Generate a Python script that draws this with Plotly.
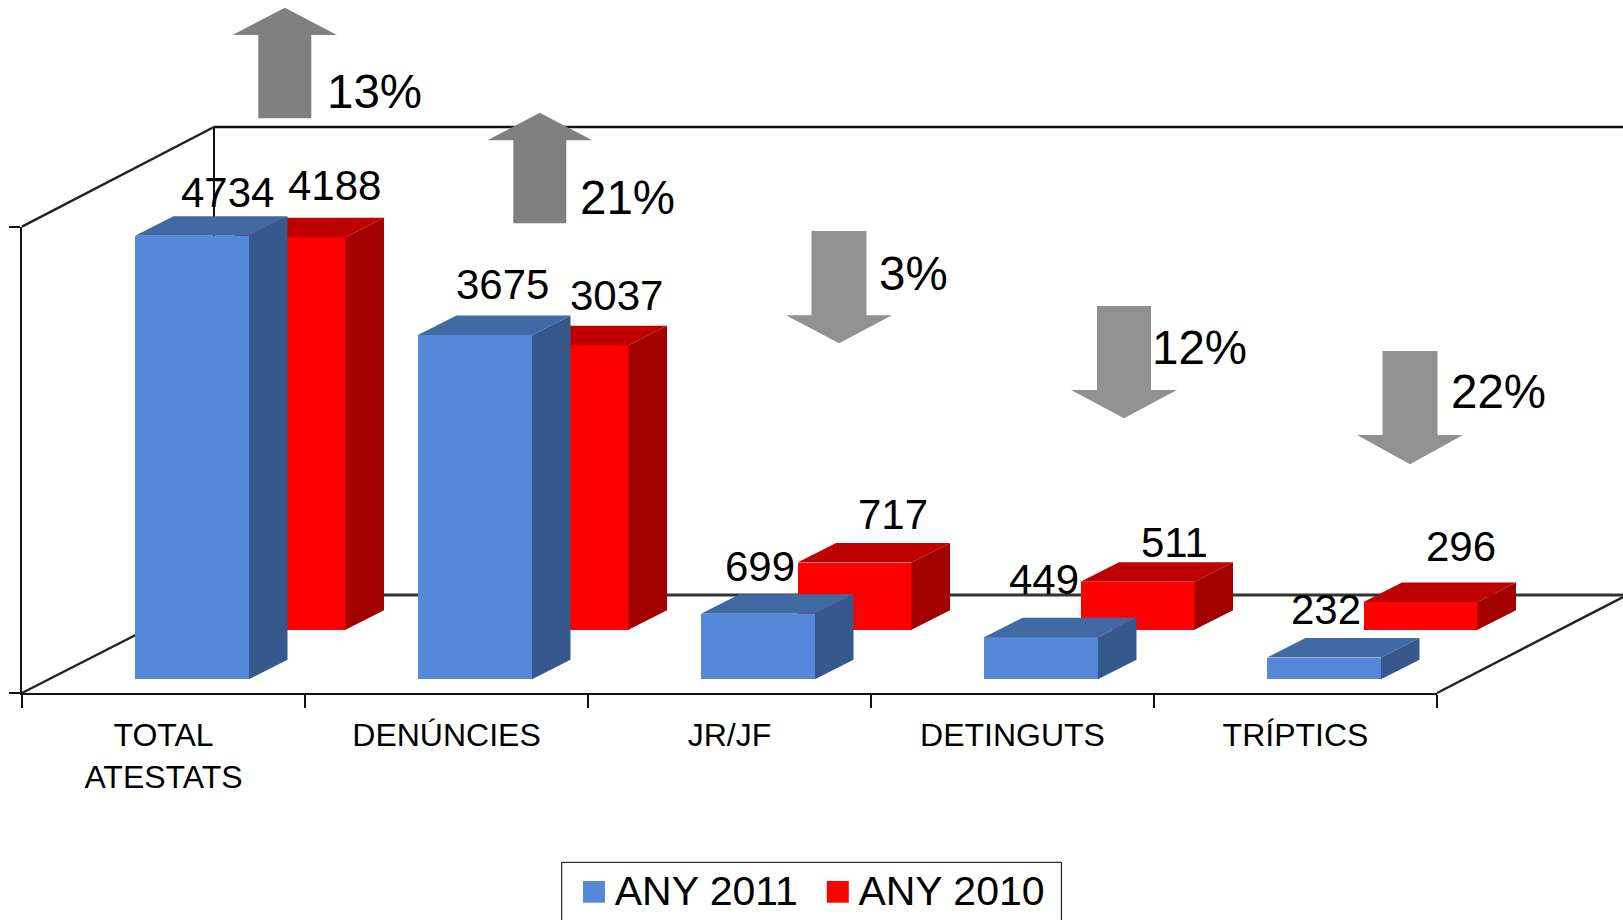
import plotly.graph_objects as go

# ---------- data ----------
categories = ["TOTAL ATESTATS", "DENÚNCIES", "JR/JF", "DETINGUTS", "TRÍPTICS"]
tick_labels = ["TOTAL<br>ATESTATS", "DENÚNCIES", "JR/JF", "DETINGUTS", "TRÍPTICS"]
any_2011 = [4734, 3675, 699, 449, 232]
any_2010 = [4188, 3037, 717, 511, 296]
change_labels = ["13%", "21%", "3%", "12%", "22%"]
change_direction = ["up", "up", "down", "down", "down"]

# ---------- layout constants (pixels of the 1623x920 page) ----------
W, H = 1623, 920
FLOOR_L, FLOOR_R, FLOOR_Y, WALL_TOP = 22, 1437, 693, 226.7
BACK_X, BACK_TOP, BACK_BOT = 214, 127, 595
CAT_PX = (FLOOR_R - FLOOR_L) / 5
CAT0_PX = FLOOR_L + CAT_PX / 2
PX_PER_UNIT = 0.0937
YMAX = (FLOOR_Y - WALL_TOP) / PX_PER_UNIT
BLUE_BASE = (FLOOR_Y - 679.3) / PX_PER_UNIT
RED_BASE = (FLOOR_Y - 629.7) / PX_PER_UNIT
BAR_W = 114 / CAT_PX
BLUE_OFF = -28.5 / CAT_PX
RED_OFF = 68 / CAT_PX
DX = 38.5 / CAT_PX
DY = 19.5 / PX_PER_UNIT
FONT = "Liberation Sans"
BLUE, BLUE_TOP, BLUE_SIDE = "#5588d8", "#4169a3", "#37588d"
RED, RED_TOP, RED_SIDE = "#ff0000", "#bf0000", "#a30000"

px = lambda x: x / W
py = lambda y: 1 - y / H


def polys(values, base, off):
    """Side and top faces of every bar, built from its value."""
    side_x, side_y, top_x, top_y = [], [], [], []
    for i, v in enumerate(values):
        xl, xr = i + off, i + off + BAR_W
        t = base + v
        side_x += [xr, xr + DX, xr + DX, xr, xr, None]
        side_y += [base, base + DY, t + DY, t, base, None]
        top_x += [xl, xl + DX, xr + DX, xr, xl, None]
        top_y += [t, t + DY, t + DY, t, t, None]
    return side_x, side_y, top_x, top_y


def series(values, base, off, name, front, top, side, rank, xa, ya):
    sx, sy, tx, ty = polys(values, base, off)
    return [
        go.Bar(x=list(range(5)), y=values, base=base, width=BAR_W, offset=off,
               marker=dict(color=front, line_width=0), name=name, legendrank=rank,
               xaxis=xa, yaxis=ya),
        go.Scatter(x=sx, y=sy, mode="none", fill="toself", fillcolor=side,
                   showlegend=False, hoverinfo="skip", xaxis=xa, yaxis=ya),
        go.Scatter(x=tx, y=ty, mode="none", fill="toself", fillcolor=top,
                   showlegend=False, hoverinfo="skip", xaxis=xa, yaxis=ya),
    ]


fig = go.Figure()
# the visible axes of the box
fig.add_trace(go.Scatter(x=[None], y=[None], showlegend=False, hoverinfo="skip", xaxis="x", yaxis="y"))
# bars live on hidden axes of the same scale that reach the page edges
fig.add_traces(series(any_2010, RED_BASE, RED_OFF, "ANY 2010", RED, RED_TOP, RED_SIDE, 2, "x2", "y2"))
fig.add_traces(series(any_2011, BLUE_BASE, BLUE_OFF, "ANY 2011", BLUE, BLUE_TOP, BLUE_SIDE, 1, "x3", "y3"))

# ---------- frame of the 3D box ----------
shapes = []
frame = [
    (FLOOR_L, WALL_TOP, BACK_X, BACK_TOP, 2.5, "#222222"),
    (BACK_X, BACK_TOP, W, BACK_TOP, 2.5, "#111111"),
    (BACK_X, BACK_TOP, BACK_X, BACK_BOT, 2, "#111111"),
    (FLOOR_L, FLOOR_Y, BACK_X, BACK_BOT, 2.5, "#222222"),
    (BACK_X, BACK_BOT, W, BACK_BOT, 3, "#333333"),
    (FLOOR_R, FLOOR_Y, W, 597, 2.5, "#222222"),
]
for x0, y0, x1, y1, lw, c in frame:
    shapes.append(dict(type="line", xref="paper", yref="paper", layer="below",
                       x0=px(x0), y0=py(y0), x1=px(x1), y1=py(y1), line=dict(color=c, width=lw)))

# ---------- change arrows ----------
# centre x, tail y, head-base y, tip y, shaft half width, head half width
arrow_geo = [
    (284.8, 118.3, 35, 7.7, 26.5, 52.2),
    (539.8, 223.3, 140.3, 112.7, 26.5, 52.4),
    (839, 231, 315.3, 343.3, 27.5, 53),
    (1124, 306, 390, 418.3, 27, 53),
    (1410, 351, 435, 464.3, 27.5, 53),
]
for (cx, tail, hb, tip, sw, hw), d in zip(arrow_geo, change_direction):
    pts = [(cx - sw, tail), (cx + sw, tail), (cx + sw, hb), (cx + hw, hb), (cx, tip), (cx - hw, hb), (cx - sw, hb)]
    path = "M" + "L".join(f"{px(a):.5f},{py(b):.5f}" for a, b in pts) + "Z"
    shapes.append(dict(type="path", xref="paper", yref="paper", layer="above", path=path,
                       fillcolor="#808080" if d == "up" else "#919191", line_width=0))

# legend box (runs off the bottom of the page) and enlarged swatches under the legend's own symbols
shapes.append(dict(type="rect", xref="paper", yref="paper", layer="above", x0=px(561.7), x1=px(1061.4),
                   y0=py(930), y1=py(862.3), line=dict(color="black", width=1), fillcolor="rgba(0,0,0,0)"))
swatches = [(583, 605, BLUE), (826.8, 848.8, RED)]
for x0, x1, c in swatches:
    shapes.append(dict(type="rect", xref="paper", yref="paper", layer="above",
                       x0=px(x0), x1=px(x1), y0=py(902.7), y1=py(881), fillcolor=c, line_width=0))

# ---------- texts ----------
annotations = []


def label(text, x, y, size):
    annotations.append(dict(text=text, xref="paper", yref="paper", x=px(x), y=py(y), xanchor="center",
                            yanchor="middle", showarrow=False, font=dict(family=FONT, size=size, color="black")))


blue_label_px = [(227.7, 192.7), (502.5, 285), (760, 566), (1044, 579), (1326, 609)]
red_label_px = [(334.8, 185), (616.7, 295), (893, 514), (1174, 542.7), (1461, 546)]
change_label_px = [(374, 92), (627, 197.7), (913, 273), (1199, 347), (1498, 391.7)]
for v, (x, y) in zip(any_2011, blue_label_px):
    label(str(v), x, y, 42)
for v, (x, y) in zip(any_2010, red_label_px):
    label(str(v), x, y, 42)
for t, (x, y) in zip(change_labels, change_label_px):
    label(t, x, y, 47.5)

dom_x = [px(FLOOR_L), px(FLOOR_R)]
dom_y = [py(FLOOR_Y), py(WALL_TOP)]
wide_x = [-CAT0_PX / CAT_PX, (W - CAT0_PX) / CAT_PX]
wide_y = [0, FLOOR_Y / PX_PER_UNIT]
hidden = dict(visible=False, fixedrange=True)
fig.update_layout(
    width=W, height=H, margin=dict(l=0, r=0, t=0, b=0, autoexpand=False), autosize=False,
    paper_bgcolor="white", plot_bgcolor="rgba(0,0,0,0)", barmode="overlay", bargap=0,
    font=dict(family=FONT, color="black"),
    shapes=shapes, annotations=annotations,
    xaxis=dict(domain=dom_x, range=[-0.5, 4.5], tickvals=list(range(5)), ticktext=tick_labels, ticks="",
               tickfont=dict(family=FONT, size=32), ticklabelstandoff=13, showgrid=False, zeroline=False,
               showline=True, linecolor="#111111", linewidth=2, tickangle=0,
               minor=dict(tick0=-0.5, dtick=1, ticks="outside", ticklen=13, tickwidth=2, tickcolor="#111111", showgrid=False)),
    yaxis=dict(domain=dom_y, range=[0, YMAX], tickvals=[0, YMAX], ticktext=["", ""], ticks="outside", ticklen=11,
               tickwidth=2, tickcolor="#111111", showgrid=False, zeroline=False, showline=True,
               linecolor="#111111", linewidth=2),
    xaxis2=dict(range=wide_x, domain=[0, 1], anchor="y2", **hidden),
    yaxis2=dict(range=wide_y, domain=[py(FLOOR_Y), 1], anchor="x2", **hidden),
    xaxis3=dict(overlaying="x2", range=wide_x, anchor="y3", **hidden),
    yaxis3=dict(overlaying="y2", range=wide_y, anchor="x3", **hidden),
    legend=dict(orientation="h", x=px(561.7), y=py(856), xanchor="left", yanchor="top",
                font=dict(family=FONT, size=41), borderwidth=0,
                bgcolor="rgba(255,255,255,0)", indentation=13,
                entrywidth=185.7, entrywidthmode="pixels"),
)
fig.write_html("out.html", config=dict(displayModeBar=False),
               post_script="document.body.style.margin='0';document.body.style.overflow='hidden';")
